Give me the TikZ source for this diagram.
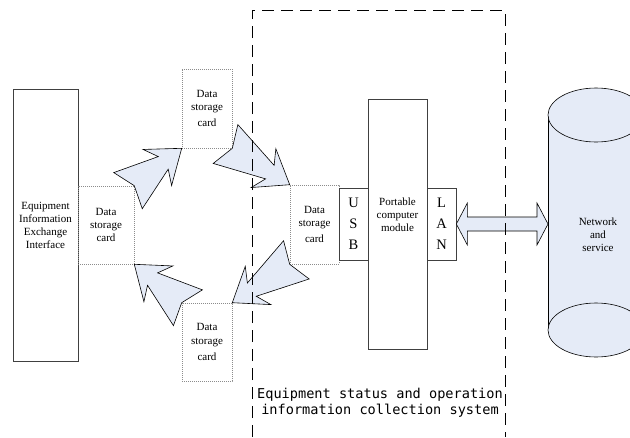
\documentclass[tikz,border=0pt]{standalone}
\usepackage{fontspec}
\setmainfont{Liberation Serif}
\newfontfamily\sysfont{DejaVu Sans Mono}
\usetikzlibrary{calc}

\definecolor{paleblue}{RGB}{229,235,247}

\tikzset{
  box/.style={draw=black!75,line width=0.7pt,inner sep=0pt,align=center,
    font=\fontsize{11}{13}\selectfont},
  card/.style={draw=black!45,line width=0.6pt,dash pattern=on 0.6pt off 1.4pt,
    inner sep=0pt,align=center,minimum width=50pt,minimum height=79pt,
    font=\fontsize{11}{13.4}\selectfont},
  port/.style={box,minimum width=29pt,minimum height=72pt,
    font=\fontsize{14.5}{21}\selectfont},
  plain/.style={align=center,inner sep=0pt,font=\fontsize{11}{13}\selectfont},
  flow/.style={draw=black,line width=0.6pt,fill=paleblue,line join=miter},
}

% notched block arrow from the corner of one card to the next
\newcommand\cardflow[2]{%
  \filldraw[flow] (#1)
    -- ($(#1)!8pt!180:(#2)!23pt!90:(#2)$)
    -- ($(#2)!23.5pt!(#1)!8pt!90:(#2)$)
    -- ($(#2)!31pt!(#1)!23pt!90:(#2)$)
    -- (#2)
    -- ($(#2)!31pt!(#1)!23pt!-90:(#2)$)
    -- ($(#2)!23.5pt!(#1)!8pt!-90:(#2)$)
    -- ($(#1)!8pt!180:(#2)!23pt!-90:(#2)$)
    -- cycle;}

\begin{document}
\begin{tikzpicture}[x=1pt,y=-1pt]
  \useasboundingbox (0,0) rectangle (630,437);

  \node[box,minimum width=65pt,minimum height=272pt] (eiei) at (45.5,225)
    {Equipment\\Information\\Exchange\\Interface};

  % the four storage cards
  \node[card,minimum width=56pt,minimum height=78pt] (lcard) at (106,225) {Data\\storage\\card};
  \node[card] (tcard) at (207,108.5) {Data\\storage\\[3pt]card};
  \node[card,minimum width=49pt] (rcard) at (314.5,224.5) {Data\\storage\\[3pt]card};
  \node[card,minimum height=78pt] (bcard) at (207,342) {Data\\storage\\[3pt]card};

  \cardflow{lcard.north east}{tcard.south west}
  \cardflow{tcard.south east}{rcard.north west}
  \cardflow{rcard.south west}{bcard.north east}
  \cardflow{bcard.north west}{lcard.south east}

  % portable computer
  \node[port] (usb) at (353.5,224) {U\\S\\B};
  \node[box,minimum width=59pt,minimum height=250pt] (pcm) at (397.5,224) {};
  \node[plain] (pcmtext) at ([yshift=9pt]pcm.center) {Portable\\computer\\module};
  \node[port] (lan) at (441.5,224) {L\\A\\N};

  % network cylinder, cut by the page edge
  \begin{scope}
    \clip (0,0) rectangle (630,437);
    \fill[paleblue] (548,115) rectangle (650,330);
    \draw[line width=0.6pt] (548,115) -- (548,330);
    \filldraw[flow] (596,330) ellipse [x radius=48pt,y radius=27pt];
    \filldraw[flow] (596,115) ellipse [x radius=48pt,y radius=27pt];
  \end{scope}
  \node[plain] (net) at (598,235) {Network\\and\\service};
  \coordinate (netside) at (548,224);

  % LAN link
  \filldraw[flow] (lan.east)
    -- ($(lan.east)!11pt!(netside)!21pt!90:(netside)$)
    -- ($(lan.east)!11pt!(netside)!7pt!90:(netside)$)
    -- ($(netside)!11pt!(lan.east)!7pt!-90:(lan.east)$)
    -- ($(netside)!11pt!(lan.east)!21pt!-90:(lan.east)$)
    -- (netside)
    -- ($(netside)!11pt!(lan.east)!21pt!90:(lan.east)$)
    -- ($(netside)!11pt!(lan.east)!7pt!90:(lan.east)$)
    -- ($(lan.east)!11pt!(netside)!7pt!-90:(netside)$)
    -- ($(lan.east)!11pt!(netside)!21pt!-90:(netside)$)
    -- cycle;

  % collection system frame
  \draw[line width=0.8pt,dash pattern=on 12pt off 7pt]
    (252,437) -- (252,10) -- (505,10) -- (505,437);
  \node[align=center,inner sep=0pt,font=\sysfont\fontsize{13.6}{16}\selectfont] (sys) at (380,403)
    {Equipment status and operation\\information collection system};
\end{tikzpicture}
\end{document}
